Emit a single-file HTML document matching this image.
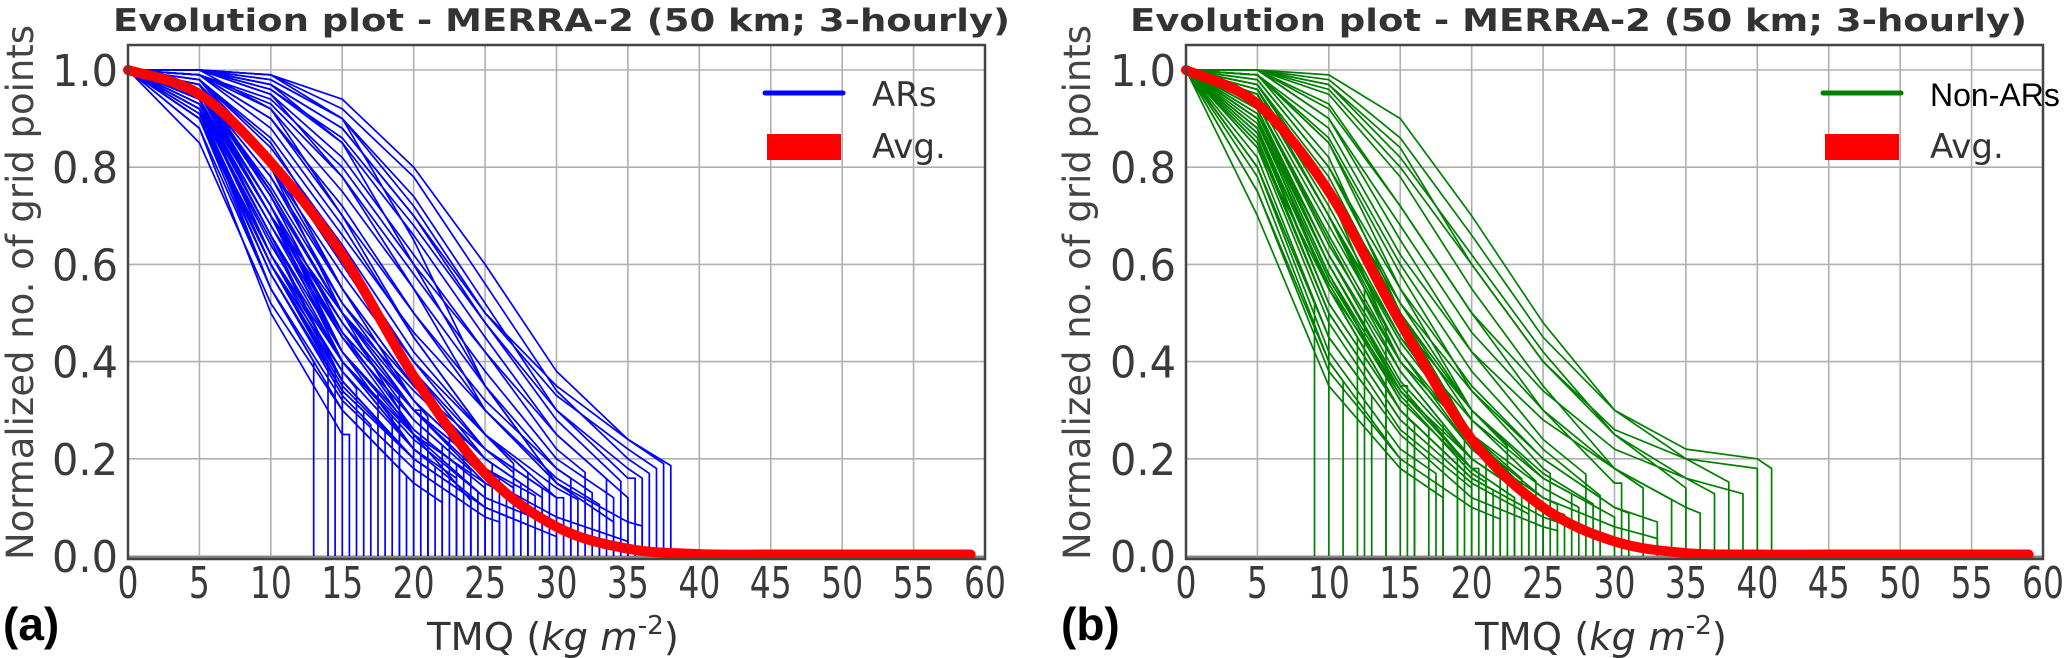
<!DOCTYPE html>
<html><head><meta charset="utf-8"><style>
html,body{margin:0;padding:0;background:#fff;}
svg{display:block;}
</style></head><body>
<svg id="fig" width="2067" height="658" viewBox="0 0 2067 658" xmlns="http://www.w3.org/2000/svg">
</svg>
<script>
// ---- data ----
const xTicks = [0,5,10,15,20,25,30,35,40,45,50,55,60];
const yTicks = [0.0,0.2,0.4,0.6,0.8,1.0];
const yTickLabels = ["0.0","0.2","0.4","0.6","0.8","1.0"];
const avgX = [0,5,10,15,20,25,30,35,40,45,50,55,59];
const arAvg = [1,0.95,0.81,0.62,0.37,0.17,0.06,0.015,0.004,0.003,0.003,0.003,0.003];
const nonArAvg = [1,0.93,0.75,0.48,0.24,0.10,0.03,0.006,0.003,0.003,0.003,0.003,0.003];
// each curve: [dropX, value at 5, 10, 15, ... ] (value at 0 is 1)
const arCurves = [
[13,.92,.55,.3],[14,.9,.6,.35],[15,.95,.7,.4],[15.5,.88,.5,.25],[16,.93,.62,.38,.2],
[17,.9,.58,.33,.18],[17.5,.96,.7,.42,.25],[18,.92,.65,.36,.2],[19,.94,.68,.45,.28],[19.5,.9,.55,.3,.15],
[20,.95,.72,.45,.25],[20.5,.97,.75,.5,.3],[21,.9,.6,.35,.2,.1],[21.5,.93,.66,.4,.22,.1],[22,.95,.7,.48,.28,.15],
[22.5,.96,.78,.52,.32,.18],[23,.92,.6,.38,.22,.12],[23.5,.98,.8,.55,.35,.2],[24,.94,.7,.45,.28,.15],[24.5,.9,.62,.4,.25,.12],
[25,.96,.75,.5,.3,.15],[25.5,.97,.82,.6,.38,.2,.1],[26,.95,.72,.48,.3,.18,.08],[26.5,.93,.68,.42,.25,.15,.07],[27,.98,.85,.62,.4,.22,.1],
[27.5,.96,.78,.55,.35,.2,.1],[28,.99,.88,.68,.45,.25,.12],[28.5,.94,.7,.5,.32,.18,.1],[29,.97,.8,.58,.38,.22,.12],[29.5,.99,.9,.72,.5,.3,.15],
[30,.98,.84,.64,.42,.25,.12],[30.5,.96,.76,.52,.35,.22,.12],[31,.99,.92,.75,.55,.35,.18,.08],[31.5,.97,.82,.6,.4,.25,.14,.06],[32,1,.95,.82,.62,.42,.22,.1],
[32.5,.99,.9,.7,.5,.32,.18,.08],[33,.98,.86,.66,.46,.3,.16,.07],[33.5,1,.96,.85,.66,.45,.25,.12],[34,.99,.93,.78,.58,.38,.2,.1],[34.5,1,.97,.88,.7,.48,.28,.14],
[35,.99,.94,.8,.6,.42,.25,.12],[35.5,1,.98,.9,.74,.52,.3,.16],[36,1,.96,.86,.68,.48,.3,.18,.08],[36.5,1,.99,.92,.78,.56,.34,.2,.1],[37,1,.98,.9,.72,.5,.33,.22,.12],
[37.5,1,.99,.94,.8,.6,.38,.24,.14],[38,1,.97,.88,.7,.5,.35,.24,.15],[22,.85,.52,.3,.15,.05],[26,.88,.55,.32,.18,.08,.03],[30,.92,.6,.36,.2,.1,.04],
[33,.9,.62,.4,.24,.12,.06,.02],[28,.96,.72,.42,.22,.1,.04],[24,.97,.8,.5,.25,.08],[35,.95,.75,.5,.3,.16,.08,.03],[36,1,.95,.78,.55,.3,.15,.07,.03],
[31,1,.97,.85,.6,.35,.15,.05],[19,.97,.75,.5,.3],[21,.98,.82,.55,.32,.15],[27,1,.92,.7,.45,.25,.1],[34,1,.99,.9,.65,.35,.15,.05],
[14.5,.94,.66,.36],[16.5,.91,.6,.34,.2],[18.5,.95,.7,.4,.24],[20,.92,.64,.4,.22],[23,.96,.74,.46,.26,.14],
[25,.93,.66,.42,.26,.14],[27,.95,.7,.46,.3,.18,.08],[29,.96,.74,.5,.34,.2,.1],[24,.91,.58,.34,.2,.1],[21,.94,.62,.36,.2,.1]
];
const nonArCurves = [
[9,.8,.45],[10,.85,.5],[11,.75,.4,.2],[12,.9,.55,.3],[13,.82,.45,.25],
[14,.88,.52,.3],[15,.78,.4,.2],[15.5,.92,.6,.35],[16,.86,.5,.28,.15],[17,.9,.58,.32,.18],
[17.5,.8,.42,.22,.12],[18,.93,.65,.38,.2],[19,.88,.55,.3,.16],[19.5,.95,.7,.42,.22],[20,.84,.48,.26,.14],
[20.5,.91,.6,.35,.18],[21,.96,.72,.45,.25,.12],[21.5,.87,.52,.3,.16,.08],[22,.93,.66,.4,.22,.1],[22.5,.98,.8,.52,.3,.15],
[23,.9,.58,.34,.18,.08],[23.5,.95,.7,.44,.25,.12],[24,.85,.5,.28,.15,.07],[24.5,.97,.76,.5,.28,.14],[25,.92,.62,.38,.2,.1],
[25.5,.99,.85,.58,.34,.18,.08],[26,.94,.68,.42,.24,.12,.05],[26.5,.88,.55,.34,.2,.1,.05],[27,.97,.78,.5,.3,.16,.08],[27.5,.93,.64,.4,.25,.14,.06],
[28,1,.9,.65,.42,.24,.12],[28.5,.96,.74,.48,.3,.17,.08],[29,.99,.86,.6,.38,.22,.1],[30,.95,.7,.45,.28,.16,.08],[30.5,1,.92,.72,.5,.3,.15],
[31,.98,.8,.55,.35,.2,.1,.04],[32,1,.95,.78,.55,.35,.18,.08],[33,.97,.76,.52,.34,.2,.1,.05],[34,1,.9,.68,.46,.3,.18,.1],[35,1,.97,.82,.62,.42,.25,.14],
[36,.99,.88,.62,.42,.28,.18,.1,.04],[37,1,.96,.8,.6,.4,.25,.16,.08],[38,1,.98,.86,.66,.45,.3,.2,.12],[39,1,.93,.72,.5,.34,.22,.16,.12],[40,1,.97,.84,.6,.4,.26,.2,.18,.15],
[41,1,.99,.9,.7,.48,.3,.22,.2,.1],[18,.7,.35,.18,.08],[22,.75,.38,.2,.1,.04],[12.5,.95,.7,.4],[26,.8,.45,.25,.12,.06,.02],
[29,.9,.55,.3,.16,.08,.03],[33,.96,.7,.4,.22,.12,.06,.02],[14,.97,.75,.4],[24,.99,.82,.5,.25,.1],[20,.99,.85,.55,.3],
[16,.84,.55,.3,.15],[19,.9,.6,.34,.18],[23,.87,.56,.32,.18,.08],[25,.91,.62,.36,.2,.1],[21,.89,.57,.33,.17,.08]
];

const NS = "http://www.w3.org/2000/svg";
const svg = document.getElementById('fig');
function mk(tag, attrs, parent, text){
  const e = document.createElementNS(NS, tag);
  for (const k in attrs) e.setAttribute(k, attrs[k]);
  if (text !== undefined) e.textContent = text;
  (parent||svg).appendChild(e);
  return e;
}
const Y0 = 556, YS = 486, TOP = 45, BOT = 559, W = 857;

function panel(x0, curves, avg, color, legendName, legendColor, letter, titleX, ylabX, xlabX){
  const g = mk('g', {});
  
  
  const sx = t => x0 + t * W / 60;
  const sy = v => Y0 - v * YS;
  xTicks.forEach(t => {
    const l = mk('line', {x1:sx(t), x2:sx(t), y1:TOP, y2:BOT, stroke:'#b0b0b0', 'stroke-width':1.6}, g);
    
    
  });
  yTicks.forEach(v => {
    const l = mk('line', {x1:x0, x2:x0+W, y1:sy(v), y2:sy(v), stroke:'#b0b0b0', 'stroke-width':1.6}, g);
    
    
  });
  const cg = mk('g', {}, g);
  
  
  curves.forEach(c => {
    const end = c[0];
    const vals = [1].concat(c.slice(1));
    const val = i => vals[Math.min(i, vals.length-1)];
    let pts = [];
    let i = 0;
    while (i*5 <= end) { pts.push([i*5, val(i)]); i++; }
    const k = Math.floor(end/5);
    const f = (end - k*5)/5;
    const ve = val(k)*(1-f) + val(k+1)*f;
    pts.push([end, ve]); pts.push([end, 0]);
    const d = pts.map((p,j)=>(j?'L':'M')+sx(p[0]).toFixed(1)+','+sy(p[1]).toFixed(1)).join('');
    const p = mk('path', {d:d, fill:'none', stroke:color, 'stroke-width':1.7, 'stroke-linejoin':'round'}, cg);
    
    
  });
  const z = mk('line', {x1:x0, x2:x0+W, y1:BOT-1, y2:BOT-1, stroke:'#888', 'stroke-width':4}, g);
  
  
  const P = avgX.map((t,j)=>[sx(t), sy(avg[j])]);
  let d = 'M'+P[0][0]+','+P[0][1];
  for (let j=0;j<P.length-1;j++){
    const p0=P[Math.max(j-1,0)], p1=P[j], p2=P[j+1], p3=P[Math.min(j+2,P.length-1)];
    const c1=[p1[0]+(p2[0]-p0[0])/6, p1[1]+(p2[1]-p0[1])/6];
    const c2=[p2[0]-(p3[0]-p1[0])/6, p2[1]-(p3[1]-p1[1])/6];
    d+=`C${c1[0].toFixed(1)},${c1[1].toFixed(1)} ${c2[0].toFixed(1)},${c2[1].toFixed(1)} ${p2[0].toFixed(1)},${p2[1].toFixed(1)}`;
  }
  const av = mk('path', {d:d, fill:'none', stroke:'#ff0000', 'stroke-width':10, 'stroke-linecap':'round'}, g);
  
  
  const fr = mk('rect', {x:x0, y:TOP, width:W, height:BOT-TOP, fill:'none', stroke:'#444', 'stroke-width':2.5}, g);
  
  
  xTicks.forEach(t => {
    const s = String(t);
    const tx = mk('text', {x:sx(t), y:598, 'text-anchor':'middle', 'font-family':'DejaVu Sans, sans-serif', 'font-size':44, fill:'#3a3a3a', textLength:21*s.length, lengthAdjust:'spacingAndGlyphs'}, g, s);
    
    
  });
  yTicks.forEach((v,j) => {
    const tx = mk('text', {x:x0-10, y:sy(v)+16, 'text-anchor':'end', 'font-family':'DejaVu Sans, sans-serif', 'font-size':44, fill:'#3a3a3a', textLength:66, lengthAdjust:'spacingAndGlyphs'}, g, yTickLabels[j]);
    
    
  });
  const ti = mk('text', {x:titleX, y:31, 'font-family':'DejaVu Sans, sans-serif', 'font-weight':'bold', 'font-size':31, fill:'#333', textLength:897, lengthAdjust:'spacingAndGlyphs'}, g, 'Evolution plot - MERRA-2 (50 km; 3-hourly)');
  
  
  const yl = mk('text', {x:0, y:0, transform:`translate(${ylabX},560) rotate(-90)`, 'font-family':'DejaVu Sans, sans-serif', 'font-size':37, fill:'#444', textLength:535, lengthAdjust:'spacingAndGlyphs'}, g, 'Normalized no. of grid points');
  
  
  const xl = mk('text', {x:0, y:0, 'font-family':'DejaVu Sans, sans-serif', 'font-size':38, fill:'#333'}, g);
  
  
  mk('tspan', {}, xl, 'TMQ (');
  mk('tspan', {'font-style':'italic'}, xl, 'kg m');
  mk('tspan', {'font-size':26, dy:-16}, xl, '-2');
  mk('tspan', {dy:16}, xl, ')');
  let bw = 253;
  try { bw = xl.getBBox().width || 253; } catch(e) {}
  xl.setAttribute('transform', `translate(${xlabX},650) scale(${(253/bw).toFixed(3)},1)`);
  const pl = mk('text', {x: x0 - 125, y:640, 'font-family':'Liberation Sans, Arial, sans-serif', 'font-weight':'bold', 'font-size':46, fill:'#000'}, g, '(' + letter + ')');
  
  
  const lg = mk('g', {}, g);
  
  
  const lx = x0 + W - 220;
  const l1 = mk('line', {x1:lx, x2:lx+78, y1:93, y2:93, stroke:color, 'stroke-width':5, 'stroke-linecap':'round'}, lg);
  
  
  const t1 = mk('text', {x:lx+107, y:106, 'font-family': letter==='a' ? 'DejaVu Sans, sans-serif' : 'Liberation Sans, Arial, sans-serif', 'font-size': letter==='a' ? 34 : 32, fill:legendColor}, lg, legendName);
  
  
  const r2 = mk('rect', {x:lx+2, y:134, width:74, height:26, fill:'#ff0000'}, lg);
  
  
  const t2 = mk('text', {x:lx+107, y:158, 'font-family':'DejaVu Sans, sans-serif', 'font-size':34, fill:'#333'}, lg, 'Avg.');
  
  
}
panel(128, arCurves, arAvg, '#0000ff', 'ARs', '#333', 'a', 113, 33, 427);
panel(1186, nonArCurves, nonArAvg, '#008000', 'Non-ARs', '#000', 'b', 1130, 1090, 1475);
</script>
</body></html>
